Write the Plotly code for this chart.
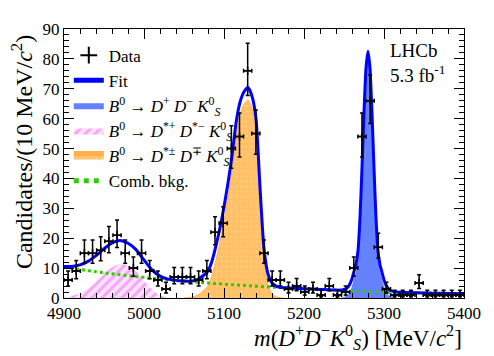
import numpy as np
import plotly.graph_objects as go

# 49 bins over 4900-5400 MeV
bin_edges = np.linspace(4900, 5400, 50)
bin_centers = 0.5 * (bin_edges[:-1] + bin_edges[1:])
half_width = 0.5 * (bin_edges[1] - bin_edges[0])

counts = [6, 9, 15, 15, 16, 19, 21, 15, 10, 15,
          9, 6, 3, 7, 7, 7, 6, 9, 22, 25,
          50, 54, 76, 55, 15, 6, 6, 3, 4, 2,
          3, 1, 4, 1, 2, 10, 54, 66, 17, 3,
          1, 1, 1, 5, 1, 1, 1, 1, 1]

# combinatorial background (green dotted)
bkg_mass = [4900, 4950, 5000, 5050, 5100, 5150, 5200, 5250, 5300, 5350, 5400]
bkg_vals = [10.3, 8.43, 6.90, 5.65, 4.63, 3.79, 3.10, 2.54, 2.07, 1.70, 1.39]

# B0 -> D*+ D*- KS (pink hatched)
pink_mass = [4900, 4910, 4920, 4930, 4940, 4950, 4960, 4970, 4980, 4990,
             5000, 5010, 5020, 5030, 5040]
pink_vals = [0.25, 0.67, 1.56, 3.12, 5.39, 8.04, 10.3, 11.5, 10.8, 9.0,
             5.8, 2.8, 0.9, 0.2, 0.0]

# B0 -> D*+- D-+ KS (orange)
orange_mass = [5050, 5055, 5060, 5065, 5070, 5075, 5080, 5085, 5090, 5095,
               5100, 5105, 5110, 5115, 5120, 5125, 5130, 5135, 5140, 5145,
               5150, 5155, 5160, 5165, 5170, 5175]
orange_vals = [0.0, 0.1, 0.3, 0.7, 1.5, 2.6, 4.0, 7.5, 12.7, 18.8,
               25.9, 34.0, 43.0, 54.1, 61.2, 64.8, 66.3, 63.5, 56.1, 33.1,
               12.7, 4.3, 1.4, 0.4, 0.1, 0.0]

# B0 -> D+ D- KS (blue)
sig_mass = [5245, 5247.5, 5250, 5252.5, 5255, 5257.5, 5260, 5262.5, 5265, 5267.5,
            5270, 5272.5, 5275, 5277.5, 5280, 5282.5, 5285, 5287.5, 5290, 5292.5,
            5295, 5297.5, 5300, 5302.5, 5305, 5307.5, 5310, 5312.5, 5315]
sig_vals = [0.04, 0.12, 0.3, 0.6, 1.2, 2.3, 4.0, 6.5, 9.0, 13.5,
            24.6, 41.3, 59.7, 74.6, 80.3, 74.6, 59.7, 41.3, 24.6, 13.5,
            9.0, 6.5, 4.0, 2.3, 1.2, 0.6, 0.3, 0.12, 0.04]

# total fit
fit_mass = [4900, 4910, 4920, 4930, 4940, 4950, 4960, 4970, 4980, 4990,
            5000, 5010, 5020, 5030, 5040, 5050, 5055, 5060, 5065, 5070,
            5075, 5080, 5085, 5090, 5095, 5100, 5105, 5110, 5115, 5120,
            5125, 5130, 5135, 5140, 5145, 5150, 5155, 5160, 5165, 5170,
            5180, 5190, 5200, 5210, 5220, 5230, 5240, 5245, 5247.5, 5250,
            5252.5, 5255, 5257.5, 5260, 5262.5, 5265, 5267.5, 5270, 5272.5, 5275,
            5277.5, 5280, 5282.5, 5285, 5287.5, 5290, 5292.5, 5295, 5297.5, 5300,
            5302.5, 5305, 5307.5, 5310, 5312.5, 5315, 5330, 5350, 5370, 5400]
fit_vals = [10.55, 10.57, 11.07, 12.26, 14.17, 16.47, 18.44, 19.26, 18.3, 16.2,
            12.7, 9.4, 7.3, 6.3, 5.9, 5.65, 5.6, 5.7, 6.0, 6.7,
            7.7, 9.0, 12.4, 17.5, 23.5, 30.5, 38.5, 47.5, 58.5, 65.5,
            69.0, 70.4, 67.5, 60.0, 37.0, 16.5, 8.0, 5.0, 4.0, 3.6,
            3.36, 3.23, 3.10, 2.98, 2.86, 2.75, 2.66, 2.63, 2.68, 2.84,
            3.11, 3.69, 4.76, 6.44, 8.91, 11.39, 15.86, 26.94, 43.62, 61.99,
            76.87, 82.55, 76.82, 61.9, 43.48, 26.76, 15.63, 11.11, 8.59, 6.07,
            4.35, 3.23, 2.61, 2.29, 2.09, 1.99, 1.84, 1.70, 1.56, 1.39]

err_up = [np.sqrt(n + 0.25) + 0.5 for n in counts]
err_dn = [np.sqrt(n + 0.25) - 0.5 for n in counts]

FONT = "Liberation Serif"

fig = go.Figure()

fig.add_trace(go.Scatter(
    x=pink_mass, y=pink_vals, mode='lines', fill='tozeroy',
    line=dict(width=0, shape='spline', smoothing=0.6, color='#ee66ee'),
    fillcolor='#fde4fd',
    fillpattern=dict(shape='/', fgcolor='#ee66ee', bgcolor='#fde4fd', size=7, solidity=0.45),
    name="<i>B</i><sup>0</sup> → <i>D</i><sup>*+</sup> <i>D</i><sup>*−</sup> <i>K</i><sup>0</sup><sub><i>S</i></sub>",
    legendrank=4, legendgroup='pink'))

fig.add_trace(go.Scatter(
    x=orange_mass, y=orange_vals, mode='lines', fill='tozeroy',
    line=dict(width=1, shape='spline', smoothing=0.6, color='#ffb04a'),
    fillcolor='#ffc066',
    fillpattern=dict(shape='.', fgcolor='#ffdcaa', bgcolor='#ffc066', size=5, solidity=0.15),
    name="<i>B</i><sup>0</sup> → <i>D</i><sup>*±</sup> <i>D</i><sup>∓</sup> <i>K</i><sup>0</sup><sub><i>S</i></sub>",
    legendrank=5, legendgroup='orange'))

fig.add_trace(go.Scatter(
    x=sig_mass, y=sig_vals, mode='lines', fill='tozeroy',
    line=dict(width=0, shape='spline', smoothing=0.6, color='#6482ff'),
    fillcolor='#6482ff',
    name="<i>B</i><sup>0</sup> → <i>D</i><sup>+</sup> <i>D</i><sup>−</sup> <i>K</i><sup>0</sup><sub><i>S</i></sub>",
    legendrank=3, legendgroup='sig'))

fig.add_trace(go.Scatter(
    x=bkg_mass, y=bkg_vals, mode='lines',
    line=dict(width=3, shape='spline', color='#2ecc00', dash='dot'),
    name="Comb. bkg.", legendrank=6, legendgroup='bkg'))

fig.add_trace(go.Scatter(
    x=fit_mass, y=fit_vals, mode='lines',
    line=dict(width=3, shape='spline', smoothing=0.6, color='#0000ff'),
    name="Fit", legendrank=2, legendgroup='fit'))

fig.add_trace(go.Scatter(
    x=bin_centers, y=counts, mode='markers',
    marker=dict(symbol='cross-thin', size=6, color='black', line=dict(width=1.5, color='black')),
    error_y=dict(type='data', symmetric=False, array=err_up, arrayminus=err_dn,
                 color='black', thickness=1.5, width=2),
    error_x=dict(type='constant', value=half_width, color='black', thickness=1.5, width=2),
    name="Data", legendrank=1, legendgroup='data'))

fig.add_annotation(x=0.81, y=0.965, xref='paper', yref='paper', xanchor='left', yanchor='top',
                   text="LHCb<br>5.3 fb<sup>-1</sup>", showarrow=False, align='left',
                   font=dict(family=FONT, size=19, color='black'))

fig.add_annotation(x=1.0, y=-0.145, xref='paper', yref='paper', xanchor='right', yanchor='middle',
                   text="<i>m</i>(<i>D</i><sup>+</sup><i>D</i><sup>−</sup><i>K</i><sup>0</sup><sub><i>S</i></sub>) [MeV/<i>c</i><sup>2</sup>]",
                   showarrow=False, font=dict(family=FONT, size=23, color='black'))

fig.add_annotation(x=-0.105, y=0.1, xref='paper', yref='paper', xanchor='center', yanchor='bottom',
                   text="Candidates/(10 MeV/<i>c</i><sup>2</sup>)", textangle=-90,
                   showarrow=False, font=dict(family=FONT, size=24, color='black'))

fig.update_xaxes(range=[4900, 5400], showgrid=False, zeroline=False,
                 showline=True, linecolor='black', linewidth=1, mirror='allticks',
                 ticks='inside', ticklen=10, tickcolor='black', dtick=100, tick0=4900,
                 minor=dict(ticks='inside', ticklen=5, dtick=20, tickcolor='black'),
                 tickfont=dict(family=FONT, size=17, color='black'))
fig.update_yaxes(range=[0, 90], showgrid=False, zeroline=False,
                 showline=True, linecolor='black', linewidth=1, mirror='allticks',
                 ticks='inside', ticklen=10, tickcolor='black', dtick=10, tick0=0,
                 minor=dict(ticks='inside', ticklen=5, dtick=2, tickcolor='black'),
                 tickfont=dict(family=FONT, size=17, color='black'))

# page body adds an 8px offset, so the figure is sized to fill the rest
fig.update_layout(width=486, height=348,
                  margin=dict(l=56, r=30, t=13, b=58),
                  plot_bgcolor='white', paper_bgcolor='white',
                  legend=dict(x=0.012, y=0.968, xanchor='left', yanchor='top',
                              bgcolor='rgba(0,0,0,0)', itemsizing='constant',
                              font=dict(family=FONT, size=17, color='black'),
                              itemwidth=30, tracegroupgap=0))

fig.write_html("out.html")
